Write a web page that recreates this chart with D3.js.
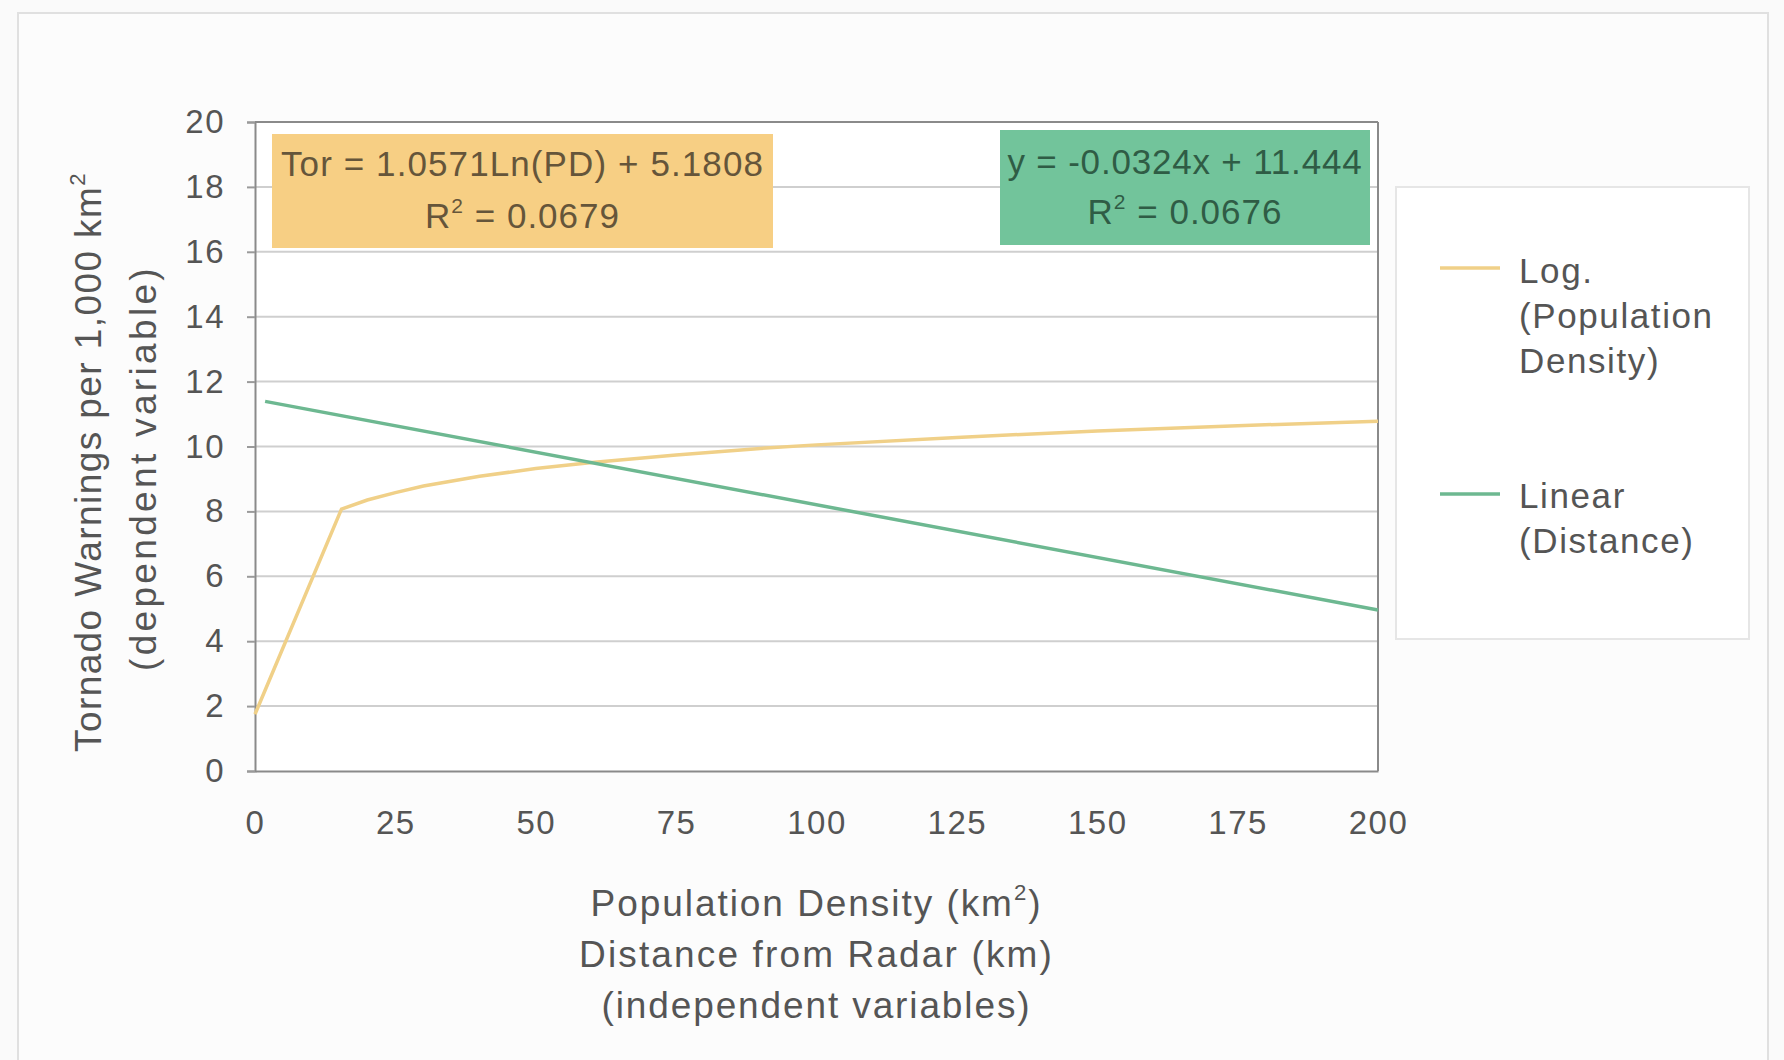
<!DOCTYPE html>
<html><head><meta charset="utf-8">
<script src="https://cdn.jsdelivr.net/npm/d3@7"></script>
<style>
html,body{margin:0;padding:0;background:#fafafa;}
text{font-family:"Liberation Sans",Arial,sans-serif;}
</style></head>
<body>
<svg id="c" width="1784" height="1060"></svg>
<script>
// ---- data ----
const xTickValues = [0, 25, 50, 75, 100, 125, 150, 175, 200];
const yTickValues = [0, 2, 4, 6, 8, 10, 12, 14, 16, 18, 20];
// Log. (Population Density) trend line
const logX = [0, 15.4, 20, 25, 30, 40, 50, 60, 75, 90, 100, 125, 150, 175, 200];
const logY = [1.75, 8.07, 8.35, 8.58, 8.78, 9.08, 9.32, 9.51, 9.74, 9.94, 10.05, 10.28, 10.48, 10.64, 10.78];
// Linear (Distance) trend line
const linX = [1.8, 200];
const linY = [11.39, 4.96];
const seriesNames = [["Log.", "(Population", "Density)"], ["Linear", "(Distance)"]];
const eqLog = ["Tor = 1.0571Ln(PD) + 5.1808", "0.0679"];
const eqLin = ["y = -0.0324x + 11.444", "0.0676"];
const xTitle = ["Population Density (km", "Distance from Radar (km)", "(independent variables)"];
const yTitle = ["Tornado Warnings per 1,000 km", "(dependent variable)"];

// ---- layout ----
const svg = d3.select("#c");
const P = {l: 255, r: 1378, t: 122, b: 771};
const FS = 33, FT = 37, FE = 35, FL = 35;
const textCol = "#555555";
const logCol = "#F0D088", linCol = "#6DB891";

const x = d3.scaleLinear().domain([0, 200]).range([P.l, P.r]);
const y = d3.scaleLinear().domain([0, 20]).range([P.b, P.t]);

function fit(sel, target) {
  sel.attr("letter-spacing", 0);
  const node = sel.node();
  const w = node.getComputedTextLength();
  const n = node.textContent.length;
  sel.attr("letter-spacing", Math.max(0, (target - w) / n).toFixed(2));
}

// outer chart border
svg.append("rect").attr("x", 18).attr("y", 13).attr("width", 1750).attr("height", 1070)
  .attr("fill", "#fcfcfc").attr("stroke", "#e0e0e0").attr("stroke-width", 2);

// plot area
svg.append("rect").attr("x", P.l).attr("y", P.t).attr("width", P.r - P.l).attr("height", P.b - P.t)
  .attr("fill", "#ffffff");

// gridlines
svg.append("g").selectAll("line").data(yTickValues.filter(d => d > 0 && d < 20)).join("line")
  .attr("x1", P.l).attr("x2", P.r).attr("y1", d => y(d)).attr("y2", d => y(d))
  .attr("stroke", "#cfcfcf").attr("stroke-width", 2);

// y axis
const yAxis = svg.append("g").attr("transform", `translate(${P.l},0)`)
  .call(d3.axisLeft(y).tickValues(yTickValues).tickSize(8).tickPadding(22));
yAxis.select(".domain").attr("stroke", "#8a8a8a").attr("stroke-width", 2);
yAxis.selectAll(".tick line").attr("stroke", "#9a9a9a").attr("stroke-width", 2);
yAxis.selectAll(".tick text").attr("font-size", FS).attr("fill", textCol)
  .attr("font-family", "Liberation Sans, Arial, sans-serif").attr("letter-spacing", 1.5);

// x axis
const xAxis = svg.append("g").attr("transform", `translate(0,${P.b})`)
  .call(d3.axisBottom(x).tickValues(xTickValues).tickSize(0).tickPadding(40));
xAxis.select(".domain").attr("stroke", "#8a8a8a").attr("stroke-width", 2);
xAxis.selectAll(".tick text").attr("font-size", FS).attr("fill", textCol)
  .attr("font-family", "Liberation Sans, Arial, sans-serif").attr("letter-spacing", 1.5);

// plot border top & right
svg.append("line").attr("x1", P.l).attr("x2", P.r).attr("y1", P.t).attr("y2", P.t)
  .attr("stroke", "#8a8a8a").attr("stroke-width", 2);
svg.append("line").attr("x1", P.r).attr("x2", P.r).attr("y1", P.t).attr("y2", P.b)
  .attr("stroke", "#8a8a8a").attr("stroke-width", 2);

// trend lines
const line = d3.line().x(d => x(d[0])).y(d => y(d[1]));
svg.append("path").datum(logX.map((v, i) => [v, logY[i]]))
  .attr("d", line).attr("fill", "none").attr("stroke", logCol).attr("stroke-width", 3.5);
svg.append("path").datum(linX.map((v, i) => [v, linY[i]]))
  .attr("d", line).attr("fill", "none").attr("stroke", linCol).attr("stroke-width", 3.5);

// equation boxes
function eqBox(x0, y0, w, h, fill, col, lines, targets, base1, base2) {
  svg.append("rect").attr("x", x0).attr("y", y0).attr("width", w).attr("height", h).attr("fill", fill);
  const cx = x0 + w / 2;
  const t1 = svg.append("text").attr("x", cx).attr("y", base1).attr("text-anchor", "middle")
    .attr("font-size", FE).attr("fill", col).text(lines[0]);
  fit(t1, targets[0]);
  const t2 = svg.append("text").attr("x", cx).attr("y", base2).attr("text-anchor", "middle")
    .attr("font-size", FE).attr("fill", col);
  t2.append("tspan").text("R");
  t2.append("tspan").attr("font-size", FE * 0.6).attr("dy", -15).text("2");
  t2.append("tspan").attr("dy", 15).text(" = " + lines[1]);
  fit(t2, targets[1]);
}
eqBox(272, 134, 501, 114, "#F7CF84", "#65553a", eqLog, [483, 195], 176, 228);
eqBox(1000, 130, 370, 115, "#72C49B", "#2f5c45", eqLin, [355, 195], 174, 224);

// legend
svg.append("rect").attr("x", 1396).attr("y", 187).attr("width", 353).attr("height", 452)
  .attr("fill", "#ffffff").attr("stroke", "#e6e6e6").attr("stroke-width", 2);
const legItems = [
  {col: logCol, lines: seriesNames[0], ly: 268, base: 283},
  {col: linCol, lines: seriesNames[1], ly: 494, base: 508}
];
legItems.forEach(it => {
  svg.append("line").attr("x1", 1440).attr("x2", 1500).attr("y1", it.ly).attr("y2", it.ly)
    .attr("stroke", it.col).attr("stroke-width", 3.5);
  it.lines.forEach((s, i) => {
    svg.append("text").attr("x", 1519).attr("y", it.base + i * 45)
      .attr("font-size", FL).attr("fill", textCol).attr("letter-spacing", 1.6).text(s);
  });
});

// x axis title
const cxT = (P.l + P.r) / 2;
const xt1 = svg.append("text").attr("x", cxT).attr("y", 916).attr("text-anchor", "middle")
  .attr("font-size", FT).attr("fill", textCol);
xt1.append("tspan").text(xTitle[0]);
xt1.append("tspan").attr("font-size", FT * 0.6).attr("dy", -16).text("2");
xt1.append("tspan").attr("dy", 16).text(")");
fit(xt1, 452);
const xt2 = svg.append("text").attr("x", cxT).attr("y", 967).attr("text-anchor", "middle")
  .attr("font-size", FT).attr("fill", textCol).text(xTitle[1]);
fit(xt2, 475);
const xt3 = svg.append("text").attr("x", cxT).attr("y", 1018).attr("text-anchor", "middle")
  .attr("font-size", FT).attr("fill", textCol).text(xTitle[2]);
fit(xt3, 430);

// y axis title
const yt1 = svg.append("text").attr("transform", "translate(101,462) rotate(-90)")
  .attr("text-anchor", "middle").attr("font-size", FT).attr("fill", textCol);
yt1.append("tspan").text(yTitle[0]);
yt1.append("tspan").attr("font-size", FT * 0.6).attr("dy", -16).text("2");
fit(yt1, 580);
const yt2 = svg.append("text").attr("transform", "translate(156,468) rotate(-90)")
  .attr("text-anchor", "middle").attr("font-size", FT).attr("fill", textCol).text(yTitle[1]);
fit(yt2, 406);
</script>
</body></html>
